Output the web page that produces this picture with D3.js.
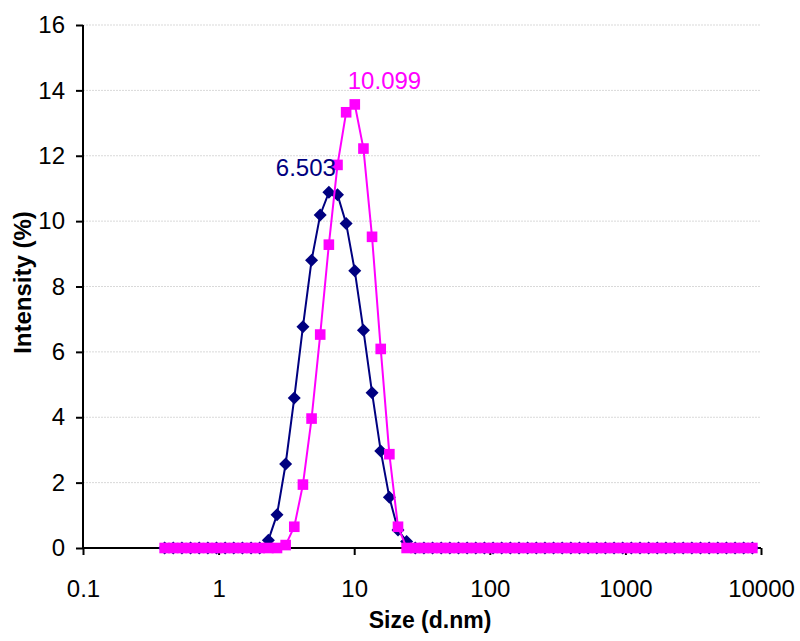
<!DOCTYPE html>
<html>
<head>
<meta charset="utf-8">
<script src="https://cdn.jsdelivr.net/npm/d3@7/dist/d3.min.js"></script>
<style>
  html, body { margin: 0; padding: 0; background: #fff; }
  svg { display: block; font-family: "Liberation Sans", Arial, sans-serif; }
</style>
</head>
<body>
<svg id="chart" width="800" height="641"></svg>
<script>
// Size classes (d.nm)
const sizes = [0.4, 0.4632, 0.5365, 0.6213, 0.7195, 0.8332, 0.9649, 1.117, 1.294, 1.499,
  1.736, 2.01, 2.328, 2.696, 3.122, 3.615, 4.187, 4.849, 5.615, 6.503,
  7.531, 8.721, 10.099, 11.7, 13.54, 15.69, 18.17, 21.04, 24.36, 28.21,
  32.67, 37.84, 43.82, 50.75, 58.77, 68.06, 78.82, 91.28, 105.7, 122.4,
  141.8, 164.2, 190.1, 220.2, 255.0, 295.3, 342.0, 396.1, 458.7, 531.2,
  615.1, 712.4, 825.0, 955.4, 1106, 1281, 1484, 1718, 1990, 2305,
  2669, 3091, 3580, 4145, 4801, 5560, 6439, 7456, 8635];

// Intensity (%) of the first sample (peak 6.503 nm)
const intensityA = [0, 0, 0, 0, 0, 0, 0, 0, 0, 0,
  0, 0, 0.24, 1.02, 2.57, 4.59, 6.77, 8.8, 10.19, 10.88,
  10.81, 9.93, 8.48, 6.66, 4.75, 2.97, 1.55, 0.55, 0.2, 0,
  0, 0, 0, 0, 0, 0, 0, 0, 0, 0,
  0, 0, 0, 0, 0, 0, 0, 0, 0, 0,
  0, 0, 0, 0, 0, 0, 0, 0, 0, 0,
  0, 0, 0, 0, 0, 0, 0, 0, 0];

// Intensity (%) of the second sample (peak 10.099 nm)
const intensityB = [0, 0, 0, 0, 0, 0, 0, 0, 0, 0,
  0, 0, 0, 0, 0.09, 0.65, 1.94, 3.96, 6.53, 9.28,
  11.72, 13.33, 13.57, 12.22, 9.52, 6.09, 2.87, 0.65, 0, 0,
  0, 0, 0, 0, 0, 0, 0, 0, 0, 0,
  0, 0, 0, 0, 0, 0, 0, 0, 0, 0,
  0, 0, 0, 0, 0, 0, 0, 0, 0, 0,
  0, 0, 0, 0, 0, 0, 0, 0, 0];

const xTicks = [0.1, 1, 10, 100, 1000, 10000];
const yTicks = [0, 2, 4, 6, 8, 10, 12, 14, 16];
const peakLabels = [
  { series: "A", size: 6.503, text: "6.503" },
  { series: "B", size: 10.099, text: "10.099" }
];

const svg = d3.select("#chart");
const plotL = 83, plotR = 761, plotT = 25, plotB = 548;
const tickFont = 24, titleFont = 23;

const x = d3.scaleLog().domain([0.1, 10000]).range([plotL, plotR]);
const y = d3.scaleLinear().domain([0, 16]).range([plotB, plotT]);

// horizontal gridlines
svg.append("g")
  .selectAll("line")
  .data(yTicks.filter(d => d > 0))
  .join("line")
  .attr("x1", plotL).attr("x2", plotR)
  .attr("y1", d => y(d)).attr("y2", d => y(d))
  .attr("stroke", "#d9d9d9").attr("stroke-width", 1)
  .attr("stroke-dasharray", "2,1");

// y axis
const yAxis = svg.append("g")
  .attr("transform", `translate(${plotL},0)`)
  .call(d3.axisLeft(y).tickValues(yTicks).tickSize(7).tickPadding(11).tickFormat(d3.format("d")));
yAxis.select(".domain").attr("stroke", "#000").attr("stroke-width", 2).attr("d", `M0,${plotB + 1}V${plotT}`);
yAxis.selectAll(".tick line").attr("stroke", "#000").attr("stroke-width", 2);
yAxis.selectAll(".tick text").attr("font-size", tickFont).attr("fill", "#000")
  .attr("font-family", "Liberation Sans, Arial, sans-serif");

// x axis
const xAxis = svg.append("g")
  .attr("transform", `translate(0,${plotB})`)
  .call(d3.axisBottom(x).tickValues(xTicks).tickSize(7).tickPadding(25)
    .tickFormat(d => d < 1 ? String(d) : d3.format("d")(d)));
xAxis.select(".domain").attr("stroke", "#000").attr("stroke-width", 2).attr("d", `M${plotL},0H${plotR}`);
xAxis.selectAll(".tick line").attr("stroke", "#000").attr("stroke-width", 2);
xAxis.selectAll(".tick text").attr("font-size", tickFont).attr("fill", "#000")
  .attr("font-family", "Liberation Sans, Arial, sans-serif");

// axis titles
svg.append("text")
  .attr("x", 430).attr("y", 628)
  .attr("text-anchor", "middle")
  .attr("font-size", titleFont).attr("font-weight", "bold")
  .text("Size (d.nm)");

svg.append("text")
  .attr("transform", `translate(31,${(plotT + plotB) / 2 - 4}) rotate(-90)`)
  .attr("text-anchor", "middle")
  .attr("font-size", 24).attr("font-weight", "bold")
  .text("Intensity (%)");

const line = d3.line().x(d => x(d[0])).y(d => y(d[1]));

const seriesA = sizes.map((s, i) => [s, intensityA[i]]);
const seriesB = sizes.map((s, i) => [s, intensityB[i]]);

// first sample: navy line with diamonds
svg.append("path").datum(seriesA)
  .attr("d", line).attr("fill", "none")
  .attr("stroke", "#000080").attr("stroke-width", 2);
const r = 6.5;
svg.append("g").selectAll("path")
  .data(seriesA).join("path")
  .attr("transform", d => `translate(${x(d[0])},${y(d[1])})`)
  .attr("d", `M0,${-r}L${r},0L0,${r}L${-r},0Z`)
  .attr("fill", "#000080");

// second sample: magenta line with squares
svg.append("path").datum(seriesB)
  .attr("d", line).attr("fill", "none")
  .attr("stroke", "#FF00FF").attr("stroke-width", 2);
const h = 5.3;
svg.append("g").selectAll("rect")
  .data(seriesB).join("rect")
  .attr("x", d => x(d[0]) - h).attr("y", d => y(d[1]) - h)
  .attr("width", 2 * h).attr("height", 2 * h)
  .attr("fill", "#FF00FF");

// peak labels
const lookup = { A: intensityA, B: intensityB };
peakLabels.forEach(p => {
  const v = lookup[p.series][sizes.indexOf(p.size)];
  const isA = p.series === "A";
  svg.append("text")
    .attr("x", x(p.size) + (isA ? 7 : -7))
    .attr("y", y(v) + (isA ? -16 : -15))
    .attr("text-anchor", isA ? "end" : "start")
    .attr("font-size", 24)
    .attr("fill", isA ? "#000080" : "#FF00FF")
    .text(p.text);
});
</script>
</body>
</html>
